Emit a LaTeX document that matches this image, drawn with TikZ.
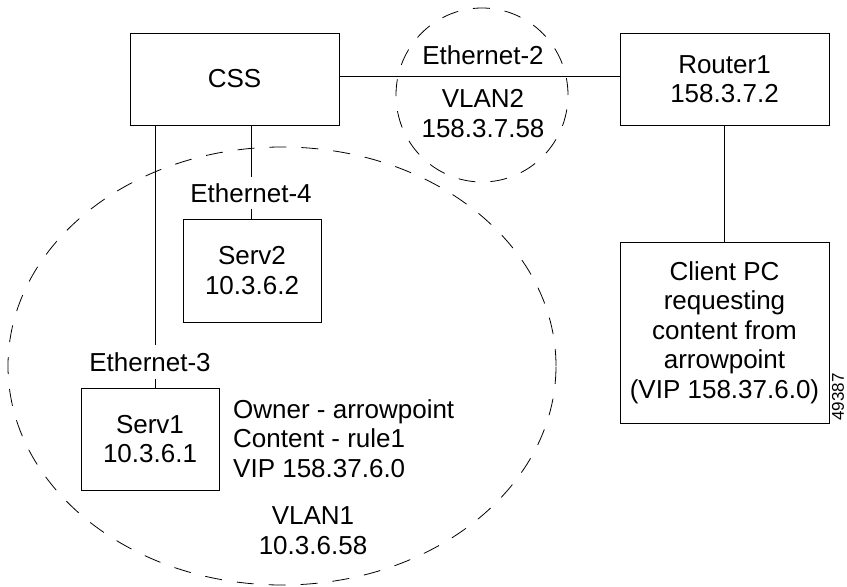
\documentclass[tikz,border=0pt]{standalone}
\usepackage{fontspec}
\setmainfont{Liberation Sans}
\begin{document}
\begin{tikzpicture}[x=1pt,y=-1pt,
  every node/.style={font=\fontsize{26pt}{29.5pt}\selectfont},
  box/.style={draw, line width=0.9pt, align=center, inner sep=0pt},
  lbl/.style={inner xsep=2pt, inner ysep=6pt, text depth=0pt},
  txt/.style={inner sep=0pt},
  conn/.style={line width=0.9pt},
  vlan/.style={line width=0.8pt, dash pattern=on 17pt off 15pt}]
\useasboundingbox (0,0) rectangle (847,587);

% VLAN outlines
\draw[vlan] (282,366) ellipse [x radius=274pt, y radius=219pt];
\draw[vlan] (482,95) ellipse [x radius=86pt, y radius=87pt];

% boxes
\node[box, minimum width=209pt, minimum height=92pt] (css) at (234.5,79) {CSS};
\node[box, minimum width=209pt, minimum height=92pt] (router) at (724.5,79) {Router1\\158.3.7.2};
\node[box, minimum width=209pt, minimum height=181pt] (client) at (724.5,332.5)
  {Client PC\\requesting\\content from\\arrowpoint\\(VIP 158.37.6.0)};
\node[box, minimum width=138pt, minimum height=103pt] (serv2) at (252,270.5) {Serv2\\10.3.6.2};
\node[box, minimum width=138pt, minimum height=102pt] (serv1) at (150,439) {Serv1\\10.3.6.1};

% labels
\node[lbl] (eth2) at (483,55) {Ethernet-2};
\node[txt, align=center] (vlan2) at (483,113.5) {VLAN2\\158.3.7.58};
\node[lbl] (eth4) at (251,193) {Ethernet-4};
\node[lbl, inner ysep=7pt] (eth3) at (150,362) {Ethernet-3};
\node[txt, align=left, anchor=west] (owner) at (233,438.5)
  {Owner - arrowpoint\\Content - rule1\\VIP 158.37.6.0};
\node[txt, align=center] (vlan1) at (313,530.5) {VLAN1\\10.3.6.58};
\node[txt, rotate=90, font=\fontsize{17pt}{20pt}\selectfont] (fig) at (838,397) {49387};

% connectors
\coordinate (x3) at (155,0);
\draw[conn] ([yshift=3pt]css.east) -- ([yshift=3pt]css.east -| router.west);
\draw[conn] (router.south) -- (client.north);
\draw[conn] (css.south -| eth4.north) -- (eth4.north);
\draw[conn] (eth4.south) -- (eth4.south |- serv2.north);
\draw[conn] (css.south -| x3) -- (eth3.north -| x3);
\draw[conn] (eth3.south -| x3) -- (serv1.north -| x3);
\end{tikzpicture}
\end{document}
